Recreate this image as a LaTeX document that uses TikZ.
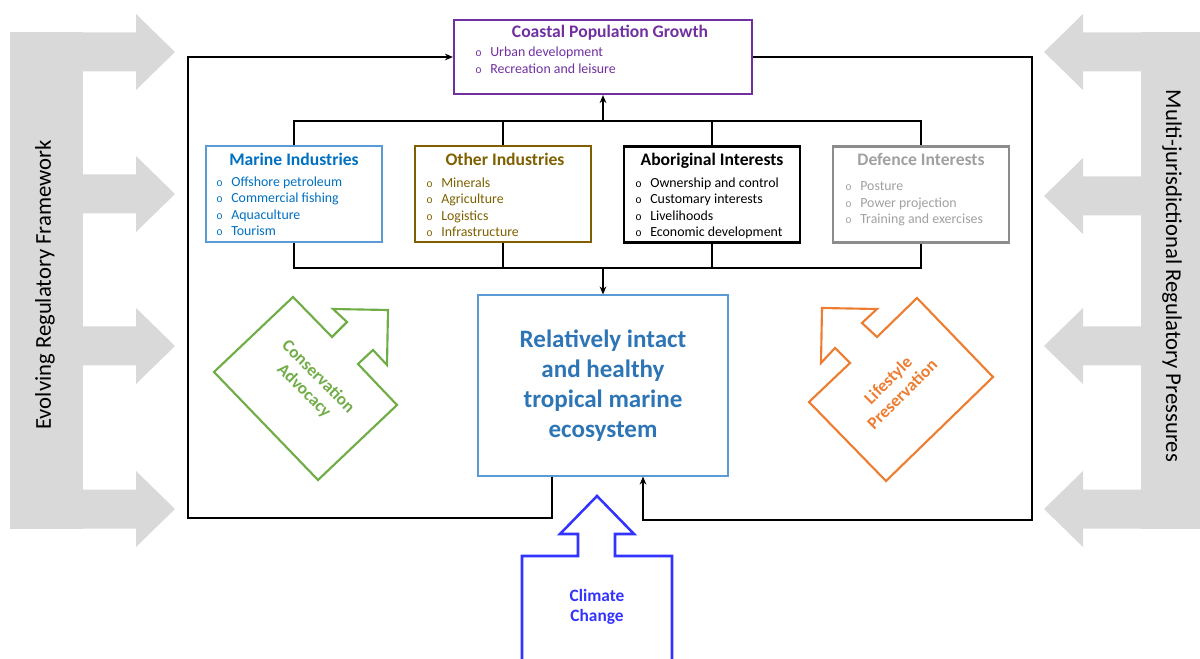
\documentclass[tikz,border=0pt]{standalone}
\usepackage{fontspec}
\setmainfont{Carlito}
\newfontfamily\bulfont{Liberation Mono}
\usetikzlibrary{arrows.meta,calc,positioning}

\definecolor{coastal}{HTML}{7030A0}
\definecolor{marineline}{HTML}{5B9BD5}
\definecolor{marinetext}{HTML}{0070C0}
\definecolor{otherind}{HTML}{7F6000}
\definecolor{defline}{HTML}{8C8C8C}
\definecolor{deftext}{HTML}{A0A0A0}
\definecolor{ecotext}{HTML}{2E75B6}
\definecolor{consgreen}{HTML}{70AD47}
\definecolor{lifeorange}{HTML}{ED7D31}
\definecolor{climblue}{HTML}{3333FF}
\definecolor{reggray}{HTML}{D9D9D9}

\newcommand{\bul}{{\bulfont\fontsize{8}{8}\selectfont o}\hspace{6.5pt}}

\begin{document}
\begin{tikzpicture}[x=0.75pt,y=-0.75pt,>={Stealth[length=6pt,width=5pt]},
    link/.style={line width=1.1pt},
    ibox/.style={draw,line width=1.6pt,minimum width=132pt,minimum height=72pt,inner sep=0pt},
    ititle/.style={font=\fontsize{13.2}{15}\selectfont\bfseries,anchor=base,inner sep=0pt},
    ilist/.style={font=\fontsize{10.4}{12.4}\selectfont,align=left,anchor=north west,inner sep=0pt},
    regarrow/.style={fill=reggray},
    sidetext/.style={font=\fontsize{17}{19}\selectfont,inner sep=0pt},
    shapetext/.style={font=\fontsize{13}{15}\selectfont\bfseries,align=center,inner sep=0pt}]
  \useasboundingbox (0,0) rectangle (1200,659);

  % regulatory arrows
  \fill[regarrow] (10,32.5) rectangle (83,528.5);
  \foreach \y in {52,194,346,509}
    \fill[regarrow] (82,\y-19.5) -- (136,\y-19.5) -- (136,\y-38) -- (175,\y)
      -- (136,\y+38) -- (136,\y+19.5) -- (82,\y+19.5) -- cycle;
  \fill[regarrow] (1141,32.5) rectangle (1200,528.5);
  \foreach \y in {52,196,346,509}
    \fill[regarrow] (1142,\y-19.5) -- (1083,\y-19.5) -- (1083,\y-38) -- (1044,\y)
      -- (1083,\y+38) -- (1083,\y+19.5) -- (1142,\y+19.5) -- cycle;
  \node[sidetext,rotate=90] (evolving) at (45,285) {Evolving Regulatory Framework};
  \node[sidetext,rotate=-90] (multi) at (1172,276) {Multi-jurisdictional Regulatory Pressures};

  % boxes
  \node[ibox,draw=coastal,minimum width=223.5pt,minimum height=55.5pt] (coastal) at (603,57) {};
  \node[ititle,text=coastal] (coastal_t) at (610,37.5) {Coastal Population Growth};
  \node[ilist,text=coastal] (coastal_l) at (475,47) {\bul Urban development\\\bul Recreation and leisure};

  \node[ibox,draw=marineline] (marine) at (294,194) {};
  \node[ititle,text=marinetext] (marine_t) at (294,165.5) {Marine Industries};
  \node[ilist,text=marinetext] (marine_l) at (216,176.5) {\bul Offshore petroleum\\\bul Commercial fishing\\\bul Aquaculture\\\bul Tourism};

  \node[ibox,draw=otherind] (other) at (503,194) {};
  \node[ititle,text=otherind] (other_t) at (505,166) {Other Industries};
  \node[ilist,text=otherind] (other_l) at (426,177.5) {\bul Minerals\\\bul Agriculture\\\bul Logistics\\\bul Infrastructure};

  \node[ibox,line width=2.2pt] (aboriginal) at (712,194.5) {};
  \node[ititle] (aboriginal_t) at (712,166) {Aboriginal Interests};
  \node[ilist] (aboriginal_l) at (635,177.5) {\bul Ownership and control\\\bul Customary interests\\\bul Livelihoods\\\bul Economic development};

  \node[ibox,draw=defline] (defence) at (921,194.5) {};
  \node[ititle,text=deftext] (defence_t) at (921,166) {Defence Interests};
  \node[ilist,text=deftext] (defence_l) at (845,181.5) {\bul Posture\\\bul Power projection\\\bul Training and exercises};

  \node[draw=marineline,line width=0.8pt,minimum width=187.5pt,minimum height=135.75pt,
    text=ecotext,font=\fontsize{18.8}{22.5}\selectfont\bfseries,align=center] (eco) at (603,385.5)
    {Relatively intact\\and healthy\\tropical marine\\ecosystem};

  % connectors
  \coordinate (topbus) at (603,121);
  \coordinate (botbus) at (603,268);
  \coordinate (frameSW) at (188,518);
  \coordinate (frameSE) at (1032,520);
  \draw[link] (marine.north) |- (topbus) -| (defence.north);
  \draw[link] (other.north) -- (other.north |- topbus);
  \draw[link] (aboriginal.north) -- (aboriginal.north |- topbus);
  \draw[link,->] (topbus) -- (coastal.south);
  \draw[link] (marine.south) |- (botbus) -| (defence.south);
  \draw[link] (other.south) -- (other.south |- botbus);
  \draw[link] (aboriginal.south) -- (aboriginal.south |- botbus);
  \draw[link,->] (botbus) -- (eco.north);
  \draw[link,->] ([xshift=-38.25pt]eco.south) |- (frameSW) |- (coastal.west);
  \draw[link,->] (coastal.east) -| (frameSE) -| ([xshift=30pt]eco.south);

  % pressures
  \draw[consgreen,line width=1.6pt,line join=miter] (214,372) -- (293,297) -- (332,337) -- (347,322)
    -- (333,309) -- (388,310) -- (387,365) -- (373,350) -- (358,364) -- (397,405) -- (318,480) -- cycle;
  \node[shapetext,text=consgreen,rotate=-45] (conservation) at (311,384) {Conservation\\Advocacy};

  \draw[lifeorange,line width=1.6pt,line join=miter] (917,298) -- (993,377) -- (886,481) -- (809,402)
    -- (850,363) -- (835,348) -- (821,363) -- (822,308) -- (877,309) -- (862,323) -- (877,337) -- cycle;
  \node[shapetext,text=lifeorange,rotate=45] (lifestyle) at (895,387) {Lifestyle\\Preservation};

  \draw[climblue,line width=1.9pt,line join=miter] (522,665) -- (522,556) -- (578,556) -- (578,534)
    -- (560,534) -- (597,496) -- (634,534) -- (615,534) -- (615,556) -- (672,556) -- (672,665);
  \node[shapetext,text=climblue] (climate) at (597,607) {Climate\\Change};
\end{tikzpicture}
\end{document}
